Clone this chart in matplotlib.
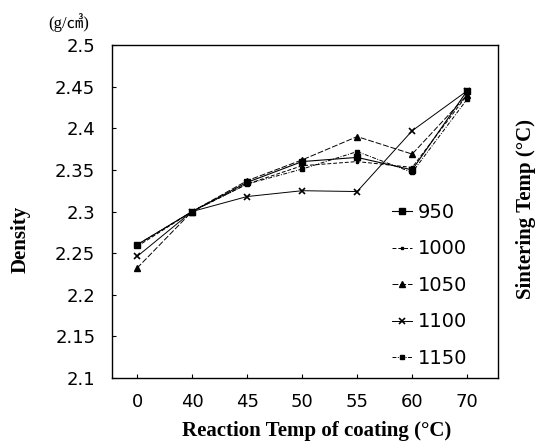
import matplotlib
matplotlib.use("Agg")
import matplotlib.pyplot as plt
import numpy as np

categories = ["0", "40", "45", "50", "55", "60", "70"]
s950 = [2.260, 2.300, 2.335, 2.360, 2.365, 2.350, 2.445]
s1000 = [2.258, 2.300, 2.333, 2.355, 2.360, 2.353, 2.440]
s1050 = [2.232, 2.300, 2.337, 2.362, 2.390, 2.369, 2.440]
s1100 = [2.246, 2.300, 2.318, 2.325, 2.324, 2.397, 2.445]
s1150 = [2.260, 2.300, 2.333, 2.351, 2.372, 2.347, 2.435]
series_labels = ["950", "1000", "1050", "1100", "1150"]
yticks = [2.1, 2.15, 2.2, 2.25, 2.3, 2.35, 2.4, 2.45, 2.5]

fig = plt.figure(figsize=(5.47, 4.44), dpi=100)
ax = fig.add_axes([0.2048, 0.1486, 0.7056, 0.75])

x = np.arange(len(categories))
styles = [
    dict(marker="s", markersize=4, linestyle="-", linewidth=0.8),
    dict(marker="s", markersize=2, linestyle=(0, (4, 2)), linewidth=0.7),
    dict(marker="^", markersize=4, linestyle=(0, (6, 2)), linewidth=0.7),
    dict(marker="x", markersize=4, linestyle="-", linewidth=0.7, markeredgewidth=1.2),
    dict(marker="s", markersize=3.5, linestyle=(0, (4, 1.5, 1, 1.5)), linewidth=0.7),
]
for data, lab, st in zip([s950, s1000, s1050, s1100, s1150], series_labels, styles):
    ax.plot(x, data, color="black", label=lab, **st)

ax.set_xlim(-0.455, 6.56)
ax.set_ylim(2.1, 2.5)
ax.set_xticks(x)
ax.set_xticklabels(categories)
ax.set_yticks(yticks)
ax.set_yticklabels([f"{v:g}" for v in yticks])
ax.tick_params(axis="both", direction="in", length=3, width=0.8, labelsize=13)
for lbl in ax.get_xticklabels() + ax.get_yticklabels():
    lbl.set_fontfamily("DejaVu Sans")
ax.tick_params(axis="x", pad=11)
ax.tick_params(axis="y", pad=12)
for sp in ax.spines.values():
    sp.set_linewidth(1.0)

leg = ax.legend(loc="lower right", frameon=False, handlelength=1.0,
                handletextpad=0.3, labelspacing=0.9, bbox_to_anchor=(0.965, -0.022),
                prop={"family": "DejaVu Sans", "size": 14})

ax.set_xlabel("Reaction Temp of coating (\u00b0C)", fontfamily="Liberation Serif",
              fontweight="bold", fontsize=15, labelpad=2)
ax.xaxis.set_label_coords(0.53, -0.13)
fig.text(0.038, 0.46, "Density", rotation=90, ha="center", va="center",
         fontfamily="Liberation Serif", fontweight="bold", fontsize=15)
fig.text(0.962, 0.53, "Sintering Temp (\u00b0C)", rotation=90, ha="center", va="center",
         fontfamily="Liberation Serif", fontweight="bold", fontsize=15)
fig.text(0.125, 0.95, "(g/\u33a4)", ha="center", va="center",
         fontfamily=["Liberation Serif", "Noto Sans CJK JP"], fontsize=12)

fig.savefig("out.png", dpi=100)
